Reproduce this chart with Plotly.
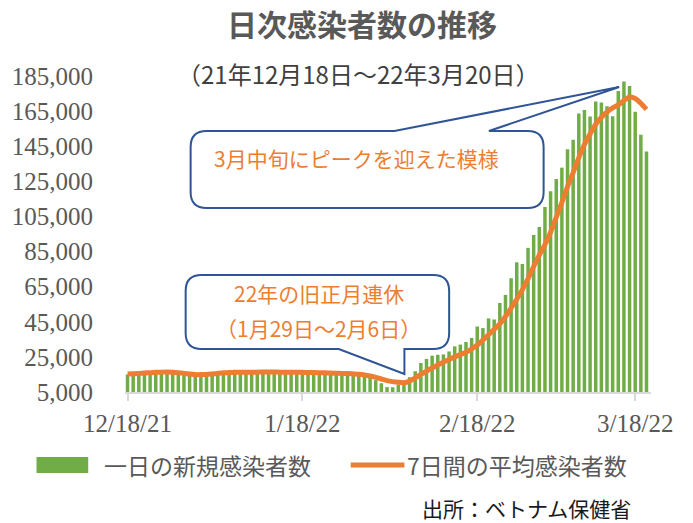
import plotly.graph_objects as go
import pandas as pd

# ---- data ----
dates = pd.date_range("2021-12-18", periods=93).strftime("%Y-%m-%d").tolist()

daily_cases = [
    15000, 14800, 15200, 15300, 15600, 15900, 15700, 16000, 16100, 15800, 15600, 15400, 15100, 14900,
    14800, 14900, 15100, 15200, 15500, 15700, 15900,
    15800, 16000, 16100, 15900, 16200, 16000, 16100, 16200, 15900, 16000, 15800, 15900, 15700, 15600,
    15500, 15400, 15300, 15100, 14900, 14700, 14400,
    14000, 13000, 11800, 10000, 7800, 7700, 9200, 10600,
    13400, 16800, 21500, 23800, 25700, 26200, 26400, 28100, 31000, 32000, 33500,
    35800, 42300, 41400, 46900, 46300, 55700, 60300, 69800, 78900, 77900, 87100, 94500, 99000, 110400,
    119400, 126300,
    132800, 143300, 148700, 163600, 165700, 161900, 170500, 169900, 167800, 162100, 176500, 181800,
    179300, 164600, 151500, 142000,
]

avg7_cases = [
    15300, 15400, 15600, 15800, 16000, 16200, 16300, 16400, 16300, 16000, 15600, 15200, 14900, 14900,
    15000, 15300, 15600, 15900, 16100, 16200, 16300,
    16300, 16300, 16300, 16400, 16400, 16400, 16300, 16300, 16300, 16200, 16200, 16100, 16100, 16000,
    15900, 15800, 15700, 15600, 15500, 15300, 15100,
    14700, 14100, 13300, 12400, 11500, 10900, 10500, 10300,
    11200, 13000, 15000, 16900, 18700, 20400, 22000, 23500, 25000, 26300, 27700,
    29500, 31800, 34600, 37600, 40700, 43800, 48000, 52800, 57800, 63300, 69500, 76500, 83000, 89000,
    96000, 104500,
    113000, 122000, 130000, 138500, 146000, 152000, 157500, 161500, 164500, 166800, 168500, 171000,
    173000, 172200, 169500, 166000,
]

x_tickvals = ["2021-12-18", "2022-01-18", "2022-02-18", "2022-03-18"]
x_ticktext = ["12/18/21", "1/18/22", "2/18/22", "3/18/22"]
y_tickvals = [5000, 25000, 45000, 65000, 85000, 105000, 125000, 145000, 165000, 185000]
y_ticktext = ["5,000", "25,000", "45,000", "65,000", "85,000", "105,000", "125,000",
              "145,000", "165,000", "185,000"]

bar_name = "一日の新規感染者数"
line_name = "7日間の平均感染者数"
title_text = "日次感染者数の推移"
subtitle_text = "（21年12月18日～22年3月20日）"
callout1_text = "3月中旬にピークを迎えた模様"
callout2_lines = ["22年の旧正月連休", "（1月29日～2月6日）"]
source_text = "出所：ベトナム保健省"

# ---- layout geometry (target pixels in the 693x523 window) ----
W, H = 693, 523
L, R, T, B = 122, 651, 76, 392   # plot area in window pixels


def px(x):
    return (x - L) / (R - L)


def py(y):
    return (B - y) / (B - T)


def P(x, y):
    return f"{px(x):.5f},{py(y):.5f}"


GREEN = "#70AD47"
ORANGE = "#ED7D31"
BLUE = "#2F5597"
GRAY = "#595959"
CJK = "Noto Sans CJK JP"
SERIF = "Liberation Serif"

fig = go.Figure()
fig.add_trace(go.Bar(x=dates, y=daily_cases, name=bar_name, marker_color=GREEN,
                     marker_line_width=0, showlegend=False))
fig.add_trace(go.Scatter(x=dates, y=avg7_cases, name=line_name, mode="lines",
                         line=dict(color=ORANGE, width=5, shape="spline", smoothing=0.5),
                         showlegend=False))


def callout1():
    x0, x1, y0, y1, r = 188, 543, 131, 208, 16
    return ("M" + P(x0 + r, y0) + " L" + P(393, y0) + " L" + P(619, 87) + " L" + P(488, y0) +
            " L" + P(x1 - r, y0) + " Q" + P(x1, y0) + " " + P(x1, y0 + r) +
            " L" + P(x1, y1 - r) + " Q" + P(x1, y1) + " " + P(x1 - r, y1) +
            " L" + P(x0 + r, y1) + " Q" + P(x0, y1) + " " + P(x0, y1 - r) +
            " L" + P(x0, y0 + r) + " Q" + P(x0, y0) + " " + P(x0 + r, y0) + " Z")


def callout2():
    x0, x1, y0, y1, r = 183, 448, 275, 349, 16
    return ("M" + P(x0 + r, y0) + " L" + P(x1 - r, y0) + " Q" + P(x1, y0) + " " + P(x1, y0 + r) +
            " L" + P(x1, y1 - r) + " Q" + P(x1, y1) + " " + P(x1 - r, y1) +
            " L" + P(403, y1) + " L" + P(403, 374) + " L" + P(337, y1) +
            " L" + P(x0 + r, y1) + " Q" + P(x0, y1) + " " + P(x0, y1 - r) +
            " L" + P(x0, y0 + r) + " Q" + P(x0, y0) + " " + P(x0 + r, y0) + " Z")


shapes = [
    dict(type="path", xref="paper", yref="paper", path=callout1(), fillcolor="white",
         line=dict(color=BLUE, width=2)),
    dict(type="path", xref="paper", yref="paper", path=callout2(), fillcolor="white",
         line=dict(color=BLUE, width=2)),
    # legend symbols
    dict(type="rect", xref="paper", yref="paper", x0=px(33), x1=px(85), y0=py(473), y1=py(457),
         fillcolor=GREEN, line=dict(width=0)),
    dict(type="line", xref="paper", yref="paper", x0=px(349), x1=px(403), y0=py(465), y1=py(465),
         line=dict(color=ORANGE, width=5)),
]

annotations = [
    dict(text=f"<b>{title_text}</b>", x=px(360), y=py(23), borderpad=0,
         font=dict(family=CJK, size=30, color=GRAY)),
    dict(text=subtitle_text, x=px(357), y=py(74), font=dict(family=CJK, size=24, color="#404040")),
    dict(text=callout1_text, x=px(355), y=py(158), font=dict(family=CJK, size=21, color=ORANGE)),
    dict(text=callout2_lines[0], x=px(317), y=py(293), font=dict(family=CJK, size=21, color=ORANGE)),
    dict(text=callout2_lines[1], x=px(317), y=py(328), font=dict(family=CJK, size=21, color=ORANGE)),
    dict(text=bar_name, x=px(99), y=py(465), xanchor="left", font=dict(family=CJK, size=23, color=GRAY)),
    dict(text=line_name, x=px(404), y=py(465), xanchor="left", font=dict(family=CJK, size=23, color=GRAY)),
    dict(text=source_text, x=px(633), y=py(508), xanchor="right", font=dict(family=CJK, size=21, color="#1A1A1A")),
]
for a in annotations:
    a.setdefault("xref", "paper")
    a.setdefault("yref", "paper")
    a.setdefault("xanchor", "center")
    a.setdefault("yanchor", "middle")
    a["showarrow"] = False

fig.update_layout(
    width=W, height=H, autosize=False,
    margin=dict(l=L, r=W - R, t=T, b=H - B, pad=0),
    paper_bgcolor="white", plot_bgcolor="white",
    bargap=0.38, showlegend=False,
    shapes=shapes, annotations=annotations,
    xaxis=dict(type="date", range=["2021-12-17 13:12", "2022-03-20 19:12"],
               tickvals=x_tickvals, ticktext=x_ticktext,
               showgrid=False, zeroline=False,
               showline=True, linecolor="#D9D9D9", linewidth=1.5,
               ticks="outside", ticklen=7, tickcolor="#D9D9D9", tickwidth=1.5,
               ticklabelstandoff=1,
               tickfont=dict(family=SERIF, size=25, color=GRAY)),
    yaxis=dict(range=[5000, 185000], tickvals=y_tickvals, ticktext=y_ticktext,
               showgrid=False, zeroline=False, showline=False, ticks="",
               ticklabelstandoff=31,
               tickfont=dict(family=SERIF, size=25, color=GRAY)),
)

fig.write_html("out.html", config={"displayModeBar": False},
               post_script="document.body.style.margin='0';document.body.style.overflow='hidden';")
